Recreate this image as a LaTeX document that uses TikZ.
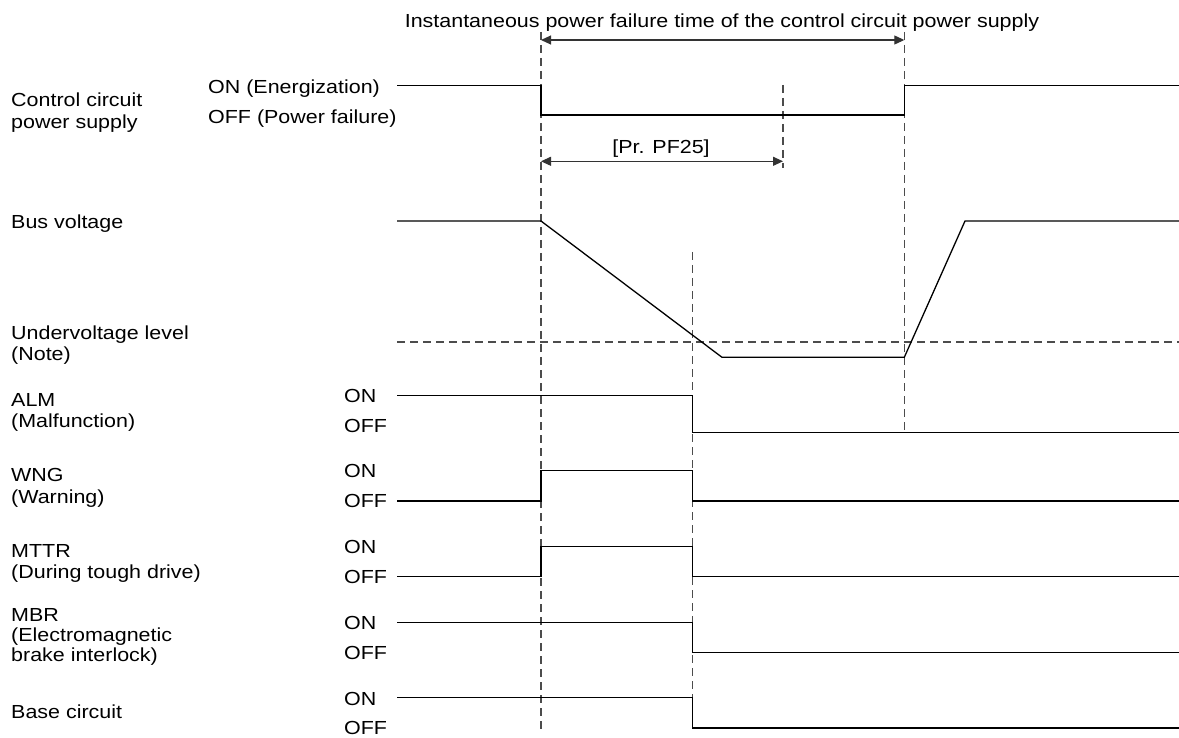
\documentclass[tikz,border=0pt]{standalone}
\usepackage{fontspec}
\setmainfont{Liberation Sans}[FakeStretch=1.135]
\usetikzlibrary{arrows.meta}
\newcommand\lblsize{\fontsize{18.9}{21.5}\selectfont}
\tikzset{
  lbl/.style={anchor=base west, inner sep=0pt, font=\lblsize},
  ctr/.style={anchor=base, inner sep=0pt, font=\lblsize},
  wave/.style={line width=1.3pt, black, line join=miter},
  guide/.style={line width=1.1pt, black!70, dash pattern=on 8pt off 5pt},
  span/.style={line width=1.1pt, black!80, {Triangle[length=10pt,width=9pt]}-{Triangle[length=10pt,width=9pt]}}
}
\begin{document}
\begin{tikzpicture}[x=1pt,y=-1pt]
\fill[white] (0,0) rectangle (1179,738);
\useasboundingbox (0,0) rectangle (1179,738);

% key time coordinates
\coordinate (d1top) at (541,32);   \coordinate (d1bot) at (541,730);
\coordinate (d2top) at (692.7,252); \coordinate (d2bot) at (692.7,730);
\coordinate (d3top) at (904.3,32); \coordinate (d3bot) at (904.3,433);
\coordinate (d4top) at (783,85);   \coordinate (d4bot) at (783,168);
\coordinate (uvL) at (397,342);    \coordinate (uvR) at (1179,342);

% guides
\draw[guide] (d1top) -- (d1bot);
\draw[guide] (d2top) -- (d2bot);
\draw[guide] (d3top) -- (d3bot);
\draw[guide] (d4top) -- (d4bot);
\draw[guide] (uvL) -- (uvR);

% spans
\coordinate (s1a) at (541,40); \coordinate (s1b) at (904.3,40);
\draw[span] (s1a) -- (s1b);
\coordinate (s2a) at (541,161.3); \coordinate (s2b) at (783,161.3);
\draw[span] (s2a) -- (s2b);

% texts
\node[ctr] (title) at (722,27.3) {Instantaneous power failure time of the control circuit power supply};
\node[ctr] (pf25) at (661,153.3) {[Pr. PF25]};

\node[lbl] (ctrlA) at (11,106.7) {Control circuit};
\node[lbl] (ctrlB) at (11,128.3) {power supply};
\node[lbl] (ctrlOn) at (208,93.3) {ON (Energization)};
\node[lbl] (ctrlOff) at (208,123.3) {OFF (Power failure)};

\node[lbl] (bus) at (11,229) {Bus voltage};
\node[lbl] (uvA) at (11,339.3) {Undervoltage level};
\node[lbl] (uvB) at (11,360.5) {(Note)};

\node[lbl] (almA) at (11,406) {ALM};
\node[lbl] (almB) at (11,427.3) {(Malfunction)};
\node[lbl] (almOn) at (344,402.7) {ON};
\node[lbl] (almOff) at (344,432.3) {OFF};

\node[lbl] (wngA) at (11,481.7) {WNG};
\node[lbl] (wngB) at (11,503) {(Warning)};
\node[lbl] (wngOn) at (344,477.3) {ON};
\node[lbl] (wngOff) at (344,507.7) {OFF};

\node[lbl] (mttrA) at (11,557.3) {MTTR};
\node[lbl] (mttrB) at (11,578.5) {(During tough drive)};
\node[lbl] (mttrOn) at (344,553.3) {ON};
\node[lbl] (mttrOff) at (344,583.3) {OFF};

\node[lbl] (mbrA) at (11,621.7) {MBR};
\node[lbl] (mbrB) at (11,641.7) {(Electromagnetic};
\node[lbl] (mbrC) at (11,661.7) {brake interlock)};
\node[lbl] (mbrOn) at (344,629.3) {ON};
\node[lbl] (mbrOff) at (344,659.3) {OFF};

\node[lbl] (baseA) at (11,718.3) {Base circuit};
\node[lbl] (baseOn) at (344,705) {ON};
\node[lbl] (baseOff) at (344,734.3) {OFF};

% waveforms
\draw[wave] (397,85.5) -- (541,85.5) -- (541,115) -- (904.3,115) -- (904.3,85.5) -- (1179,85.5);
\draw[wave] (397,221) -- (541,221) -- (722,357.3) -- (904.3,357.3) -- (965,221) -- (1179,221);
\draw[wave] (397,395.5) -- (692.7,395.5) -- (692.7,432.7) -- (1179,432.7);
\draw[wave] (397,501) -- (541,501) -- (541,470.7) -- (692.7,470.7) -- (692.7,501) -- (1179,501);
\draw[wave] (397,576.7) -- (541,576.7) -- (541,546.5) -- (692.7,546.5) -- (692.7,576.7) -- (1179,576.7);
\draw[wave] (397,622.3) -- (692.7,622.3) -- (692.7,652.3) -- (1179,652.3);
\draw[wave] (397,697.7) -- (692.7,697.7) -- (692.7,728) -- (1179,728);
\end{tikzpicture}
\end{document}
